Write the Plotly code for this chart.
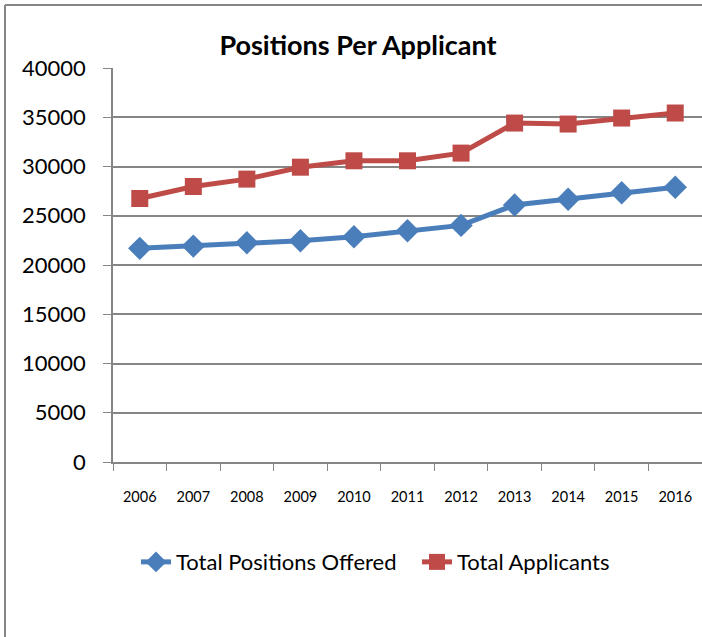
import plotly.graph_objects as go

years = ["2006", "2007", "2008", "2009", "2010", "2011", "2012", "2013", "2014", "2015", "2016"]
positions_offered = [21690, 21920, 22260, 22460, 22870, 23480, 24020, 26090, 26670, 27340, 27890]
total_applicants = [26750, 27970, 28720, 29930, 30580, 30580, 31360, 34410, 34310, 34920, 35430]
y_ticks = [0, 5000, 10000, 15000, 20000, 25000, 30000, 35000, 40000]
y_tick_labels = ["0", "5000", "10000", "15000", "20000", "25000", "30000", "35000", "40000"]

FONT = "Lato, Open Sans, sans-serif"
L, T, B = 113, 68, 175
W, H = 702, 637
PW, PH = W - L, H - T - B

fig = go.Figure()
fig.add_trace(go.Scatter(
    x=years, y=positions_offered, name="Total Positions Offered",
    mode="lines+markers",
    line=dict(color="#4A7EBB", width=5),
    marker=dict(symbol="diamond", size=18, color="#4A7EBB"),
))
fig.add_trace(go.Scatter(
    x=years, y=total_applicants, name="Total Applicants",
    mode="lines+markers",
    line=dict(color="#BE4B48", width=5),
    marker=dict(symbol="square", size=17, color="#BE4B48"),
))

frame_x = (5 - L) / PW
frame_top = (H - B - 5) / PH
frame_bottom = (H - B - H - 20) / PH
frame_right = (W + 20 - L) / PW

fig.update_layout(
    width=W, height=H,
    margin=dict(l=L, r=0, t=T, b=B),
    paper_bgcolor="white", plot_bgcolor="white",
    font=dict(family=FONT, color="black"),
    title=dict(text="<b>Positions Per Applicant</b>", x=0.416, xref="paper", xanchor="center",
               y=1 - 46 / H, yanchor="middle", font=dict(size=27, family=FONT)),
    showlegend=True,
    legend=dict(orientation="h", x=(136 - L) / PW, xanchor="left", y=-0.254, yanchor="middle",
                font=dict(size=22, family=FONT), tracegroupgap=0,
                entrywidth=236, entrywidthmode="pixels"),
    xaxis=dict(type="category", range=[-0.5, 10.5], showgrid=False, showline=True,
               linecolor="#868686", linewidth=1.5,
               ticks="outside", tickson="boundaries", ticklen=7, tickcolor="#868686",
               tickfont=dict(size=14.5, family=FONT), ticklabelstandoff=21),
    yaxis=dict(range=[0, 40000], tickvals=y_ticks, ticktext=y_tick_labels,
               showgrid=True, gridcolor="#868686", gridwidth=1.5,
               showline=True, linecolor="#868686", linewidth=1.5, ticks="outside", ticklen=8,
               tickcolor="#868686", tickfont=dict(size=22, family=FONT), ticklabelstandoff=13,
               zeroline=False),
    shapes=[
        dict(type="line", xref="paper", yref="paper", x0=frame_x, x1=frame_x, y0=frame_bottom, y1=frame_top,
             line=dict(color="#868686", width=2)),
        dict(type="line", xref="paper", yref="paper", x0=frame_x, x1=frame_right, y0=frame_top, y1=frame_top,
             line=dict(color="#868686", width=2)),
    ],
)
fig.write_html("out.html", config={"displayModeBar": False},
               post_script="document.body.style.margin='0';document.body.style.overflow='hidden';")
